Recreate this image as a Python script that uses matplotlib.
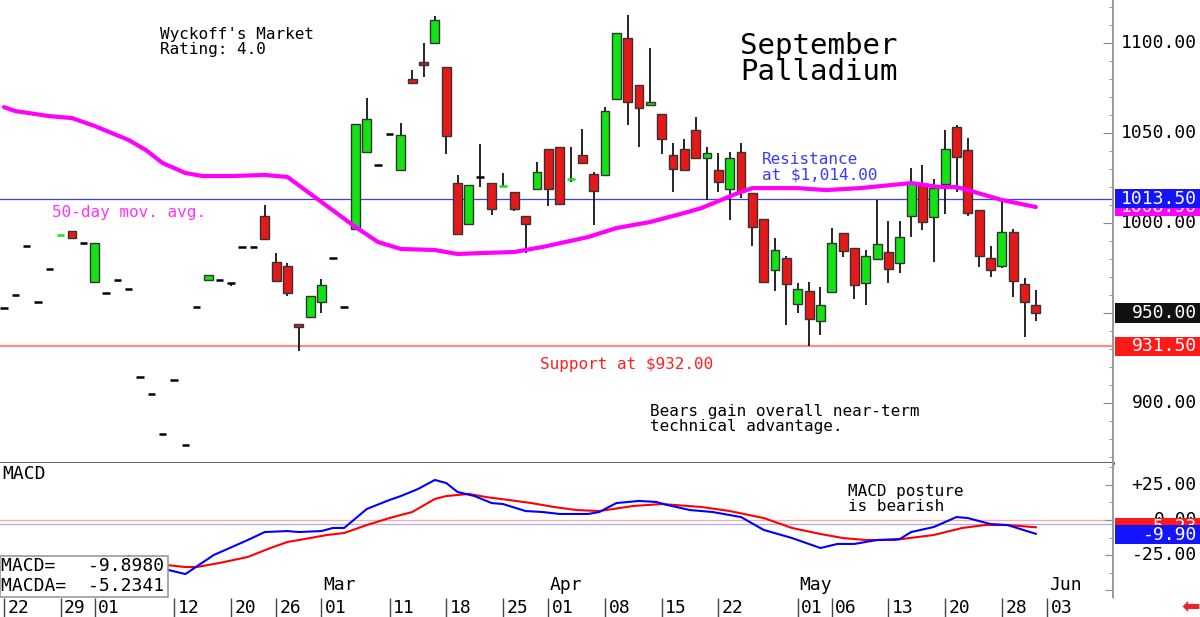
import matplotlib
matplotlib.use("Agg")
import matplotlib.pyplot as plt
import matplotlib.transforms as mtransforms
from matplotlib.patches import Rectangle
from matplotlib.ticker import MultipleLocator

# daily bars, index 0 = Jan 22
opens = [952.8, 960.0, 987.2, 956.1, 974.4, 993.1, 995.6, 988.9, 967.2, 961.1,
         968.3, 963.3, 914.4, 905.0, 882.8, 912.8, 876.7, 953.3, 968.3, 968.3,
         966.7, 986.7, 986.7, 1003.9, 978.3, 976.1, 943.9, 947.8, 956.1, 980.6,
         953.3, 996.7, 1039.4, 1032.2, 1049.4, 1029.4, 1080.0, 1089.4, 1100.0, 1086.7,
         1022.2, 999.4, 1025.6, 1022.2, 1020.4, 1017.2, 1003.9, 1018.9, 1041.1, 1042.2,
         1024.2, 1037.8, 1027.2, 1026.7, 1068.9, 1102.8, 1076.7, 1065.6, 1060.6, 1037.8,
         1041.1, 1051.7, 1036.1, 1029.4, 1018.9, 1039.4, 1016.7, 1002.2, 973.9, 980.6,
         955.0, 962.2, 945.6, 961.7, 994.4, 986.1, 966.7, 980.0, 983.9, 977.8,
         1003.9, 1021.7, 1003.3, 1021.7, 1053.3, 1040.6, 1007.2, 980.6, 976.1, 995.0,
         966.1, 954.4]
highs = [952.8, 960.0, 987.2, 956.1, 974.4, 993.3, 995.6, 988.9, 988.9, 961.1,
         968.3, 963.3, 914.4, 905.0, 882.8, 912.8, 876.7, 953.3, 971.1, 968.3,
         966.7, 986.7, 986.7, 1010.0, 983.3, 977.8, 943.9, 959.4, 968.9, 980.6,
         953.3, 1055.0, 1069.4, 1032.2, 1049.4, 1055.6, 1085.0, 1100.0, 1115.0, 1086.7,
         1026.7, 1021.1, 1043.9, 1022.2, 1027.8, 1017.2, 1003.9, 1033.9, 1041.1, 1042.2,
         1042.2, 1052.2, 1028.3, 1064.4, 1105.6, 1115.6, 1076.7, 1097.2, 1060.6, 1044.4,
         1046.7, 1058.9, 1042.2, 1038.9, 1039.4, 1044.4, 1016.7, 1002.2, 991.7, 981.7,
         966.7, 967.2, 964.4, 997.2, 994.4, 986.1, 985.0, 1012.8, 1001.1, 1001.1,
         1030.6, 1032.2, 1024.4, 1051.7, 1054.4, 1047.2, 1007.2, 987.2, 1012.8, 996.7,
         969.4, 962.8]
lows = [952.8, 960.0, 987.2, 956.1, 974.4, 993.1, 991.7, 988.9, 967.2, 961.1,
        968.3, 963.3, 914.4, 905.0, 882.8, 912.8, 876.7, 953.3, 968.3, 968.3,
        965.0, 986.7, 986.7, 991.1, 967.8, 959.4, 929.0, 947.8, 950.0, 980.6,
        953.3, 996.7, 1039.4, 1032.2, 1049.4, 1029.4, 1077.8, 1081.1, 1100.0, 1038.3,
        993.9, 999.4, 1020.0, 1004.4, 1020.4, 1006.7, 983.3, 1018.9, 1009.4, 1010.6,
        1022.8, 1033.3, 998.9, 1026.7, 1068.9, 1054.4, 1042.2, 1065.6, 1038.3, 1017.2,
        1029.4, 1036.1, 1012.8, 1017.2, 1001.7, 1013.9, 987.2, 967.2, 962.2, 943.3,
        950.0, 931.5, 937.8, 961.7, 981.1, 957.8, 954.4, 980.0, 966.7, 972.2,
        992.2, 996.1, 978.3, 1005.0, 1017.2, 1003.9, 975.6, 970.0, 975.0, 958.9,
        936.7, 945.6]
closes = [952.8, 960.0, 987.2, 956.1, 974.4, 993.3, 991.7, 988.9, 988.9, 961.1,
          968.3, 963.3, 914.4, 905.0, 882.8, 912.8, 876.7, 953.3, 971.1, 968.3,
          966.7, 986.7, 986.7, 991.1, 967.8, 961.1, 942.2, 959.4, 965.6, 980.6,
          953.3, 1055.0, 1057.8, 1032.2, 1049.4, 1048.9, 1077.8, 1087.8, 1112.8, 1048.3,
          993.9, 1021.1, 1025.6, 1007.8, 1020.6, 1007.8, 999.4, 1028.3, 1018.9, 1010.6,
          1024.4, 1033.3, 1017.8, 1062.2, 1105.6, 1067.2, 1063.9, 1066.7, 1046.7, 1030.0,
          1029.4, 1036.1, 1038.9, 1022.8, 1036.1, 1017.8, 997.8, 967.2, 985.0, 966.1,
          963.3, 946.7, 954.4, 988.9, 984.4, 965.6, 981.7, 988.3, 974.4, 992.2,
          1022.2, 1000.6, 1019.4, 1041.1, 1036.7, 1005.6, 981.7, 973.9, 995.0, 967.8,
          956.1, 950.0]

ma_x = [0, 1, 4, 6, 8, 9.5, 11, 12.5, 14, 16, 17.5, 20, 23, 25, 28, 31, 33, 35, 38, 40,
        42, 45, 47.5, 51.5, 54, 57, 60, 61.5, 64.5, 66, 70, 72.5, 75.5, 80, 82.5, 84, 85, 88, 91]
ma_vals = [1064.4, 1062.2, 1059.4, 1058.3, 1053.9, 1050.0, 1046.1, 1040.6, 1033.3, 1027.8,
           1026.1, 1026.1, 1026.7, 1025.6, 1011.7, 997.8, 989.4, 985.6, 985.0, 982.8,
           983.3, 983.9, 986.7, 992.2, 997.2, 1000.6, 1005.6, 1008.3, 1016.1, 1019.4,
           1019.4, 1018.3, 1019.4, 1022.2, 1020.0, 1020.0, 1018.3, 1012.8, 1008.9]

macd_x = [11, 14.5, 16, 18.5, 21.5, 23, 25, 26, 28, 29, 30, 32, 34, 35, 36.5, 38, 39, 40,
          41.5, 43, 44, 46, 47.5, 49, 51.5, 52.5, 54, 56, 57.5, 58.5, 60.5, 62.5, 65, 67,
          69.5, 72, 73.5, 75, 77, 79, 80, 82, 84, 85, 87, 88.5, 91]
macd_vals = [-25.7, -35.7, -38.6, -25.0, -14.3, -8.6, -7.9, -8.6, -7.9, -5.7, -5.7, 7.9,
             14.3, 17.1, 22.1, 28.6, 26.4, 20.0, 17.1, 12.1, 11.4, 6.4, 5.7, 4.3, 4.3, 5.7,
             12.1, 13.6, 12.9, 10.7, 7.1, 5.7, 2.1, -7.1, -12.9, -20.0, -17.1, -17.1, -14.3,
             -13.6, -8.6, -5.0, 2.1, 1.4, -2.9, -3.6, -9.9]
sig_x = [11, 13.5, 16, 17, 19, 21.5, 23.5, 25, 26.5, 28.5, 30, 32, 34, 36, 38, 39, 41,
         42.5, 44.5, 46.5, 48.5, 50.5, 52.5, 55.5, 58, 61.5, 64, 67, 69.5, 72, 74, 76,
         78.5, 82, 84.5, 86.5, 88.5, 91]
sig_vals = [-29.5, -31.4, -33.6, -33.6, -30.7, -26.4, -20.0, -15.7, -13.6, -10.7, -9.3,
            -3.6, 1.4, 5.7, 15.0, 17.1, 18.6, 16.4, 14.3, 12.1, 9.3, 7.1, 6.4, 10.0, 11.4,
            9.3, 6.4, 1.4, -5.7, -10.0, -12.9, -14.3, -14.3, -10.7, -5.7, -3.6, -3.6, -5.2]

date_pos = [0, 5, 8, 15, 20, 24, 28, 34, 39, 44, 48, 53, 58, 63, 70, 73, 78, 83, 88, 92]
date_labels = ["22", "29", "01", "12", "20", "26", "01", "11", "18", "25", "01", "08",
               "15", "22", "01", "06", "13", "20", "28", "03"]
month_pos = [28, 48, 70, 92]
month_labels = ["Mar", "Apr", "May", "Jun"]

resistance = 1013.5
support = 931.5
macd_last = -9.898
macda_last = -5.2341

MONO = "DejaVu Sans Mono"
GREEN = "#13e313"
RED = "#e81818"
W, H = 1200, 617


def fx(px):
    return px / W


def fy(py):
    return 1 - py / H


fig = plt.figure(figsize=(12, 6.17), dpi=100)
ax = fig.add_axes([0, fy(463), fx(1113), fy(0) - fy(463)])
mx = fig.add_axes([0, fy(598), fx(1113), fy(463) - fy(598)], sharex=ax)
dx = fig.add_axes([0, 0, fx(1113), fy(598)], sharex=ax)

ax.set_xlim(-0.35, 97.8)
ax.set_ylim(866.7, 1123.9)
mx.set_ylim(-55.7, 40.7)
dx.set_ylim(0, 1)

# candles
for i in range(len(opens)):
    o, h, l, c = opens[i], highs[i], lows[i], closes[i]
    if h > max(o, c) or l < min(o, c):
        ax.vlines(i, l, h, color="black", lw=1.2, zorder=2)
    if abs(c - o) < 0.8:
        col = GREEN if c > o else (RED if c < o else "black")
        ax.hlines(o, i - 0.33, i + 0.33, color=col, lw=1.8, zorder=3)
    else:
        col = GREEN if c > o else RED
        ax.bar(i, max(abs(c - o), 1.5), bottom=min(o, c), width=0.78, color=col,
               edgecolor="#333333", lw=1.0, zorder=3)

ax.plot(ma_x, ma_vals, color="#ff00ff", lw=3, zorder=4, solid_capstyle="round")
ax.axhline(resistance, color="#3c3cff", lw=0.9, zorder=1)
ax.axhline(support, color="#ff8c8c", lw=1.6, zorder=1)

for a in (ax, mx, dx):
    for s in a.spines.values():
        s.set_visible(False)
    a.tick_params(axis="x", which="both", bottom=False, labelbottom=False)
ax.spines["right"].set_visible(True)
ax.spines["right"].set_color("#999999")
ax.spines["right"].set_linewidth(1.4)
ax.spines["bottom"].set_visible(True)
ax.spines["bottom"].set_color("#555555")
ax.spines["bottom"].set_linewidth(2)
mx.spines["right"].set_visible(True)
mx.spines["right"].set_color("#999999")
mx.spines["right"].set_linewidth(1.4)

ax.yaxis.set_ticks_position("right")
ax.yaxis.set_major_locator(MultipleLocator(50))
ax.yaxis.set_minor_locator(MultipleLocator(10))
ax.tick_params(axis="y", which="major", direction="in", length=7, color="#888888", labelright=False)
ax.tick_params(axis="y", which="minor", direction="in", length=3, color="#888888")
mx.yaxis.set_ticks_position("right")
mx.yaxis.set_major_locator(MultipleLocator(25))
mx.yaxis.set_minor_locator(MultipleLocator(12.5))
mx.tick_params(axis="y", which="major", direction="in", length=6, color="#888888", labelright=False)
mx.tick_params(axis="y", which="minor", direction="in", length=3, color="#888888")
dx.set_yticks([])

xr = 1197 / 1113
xb = 1115 / 1113
xw = 1200 / 1113 - xb
tr_p = mtransforms.blended_transform_factory(ax.transAxes, ax.transData)
tr_m = mtransforms.blended_transform_factory(mx.transAxes, mx.transData)

for v in [1100, 1050, 1000, 900]:
    ax.text(xr, v, f"{v:.2f}", transform=tr_p, ha="right", va="center",
            fontsize=13, family=MONO, clip_on=False)


def price_box(a, tr, val, text, color, half, z):
    a.add_patch(Rectangle((xb, val - half), xw, 2 * half, transform=tr, facecolor=color,
                          edgecolor="none", clip_on=False, zorder=z))
    a.text(xr, val, text, transform=tr, ha="right", va="center", fontsize=13,
           family=MONO, color="white", clip_on=False, zorder=z + 0.5)


price_box(ax, tr_p, ma_vals[-1], f"{ma_vals[-1]:.2f}", "#ff00ff", 5.0, 5)
price_box(ax, tr_p, resistance, f"{resistance:.2f}", "#1414ff", 5.4, 6)
price_box(ax, tr_p, closes[-1], f"{closes[-1]:.2f}", "#111111", 5.4, 6)
price_box(ax, tr_p, support, f"{support:.2f}", "#ff1a1a", 5.4, 6)

# MACD panel
mx.axhline(0, color="#ffaaaa", lw=0.9, zorder=1)
mx.axhline(-3, color="#aaaaff", lw=0.9, zorder=1)
mx.plot(sig_x, sig_vals, color="#ff0000", lw=1.5, zorder=3)
mx.plot(macd_x, macd_vals, color="#0000ff", lw=1.5, zorder=3)
for v, t in [(25, "+25.00"), (0, "0.00"), (-25, "-25.00")]:
    mx.text(xr, v, t, transform=tr_m, ha="right", va="center", fontsize=13,
            family=MONO, clip_on=False)
price_box(mx, tr_m, macda_last, f"{macda_last:.2f}", "#ff1a1a", 6.4, 6)
price_box(mx, tr_m, macd_last - 0.5, f"{macd_last:.2f}", "#1414ff", 6.8, 7)

for p, m in zip(month_pos, month_labels):
    mx.text(p + 0.15, -46.4, m, ha="left", va="center", fontsize=13, family=MONO)

mx.add_patch(Rectangle((0, fy(597)), fx(168), fy(556) - fy(597), transform=fig.transFigure,
                       facecolor="white", edgecolor="#999999", lw=1.2, clip_on=False, zorder=10))
fig.text(fx(1), fy(566), f"MACD=   {macd_last:.4f}", ha="left", va="center", fontsize=13,
         family=MONO, zorder=11)
fig.text(fx(1), fy(586), f"MACDA=  {macda_last:.4f}", ha="left", va="center", fontsize=13,
         family=MONO, zorder=11)
fig.text(fx(2), fy(474), "MACD", ha="left", va="center", fontsize=13, family=MONO)

# date row
dx.vlines(date_pos, 0, 1, color="#444444", lw=1)
for p, t in zip(date_pos, date_labels):
    dx.text(p + 0.3, 0.45, t, ha="left", va="center", fontsize=13, family=MONO)

# notes
fig.text(fx(160), fy(42), "Wyckoff's Market\nRating: 4.0", ha="left", va="center",
         fontsize=11.5, family=MONO, linespacing=1.0)
fig.text(fx(740), fy(59), "September\nPalladium", ha="left", va="center",
         fontsize=21, family=MONO, linespacing=0.95)
fig.text(fx(52), fy(213), "50-day mov. avg.", ha="left", va="center", fontsize=11.5,
         family=MONO, color="#ff33ff")
fig.text(fx(762), fy(167), "Resistance\nat $1,014.00", ha="left", va="center",
         fontsize=11.5, family=MONO, color="#3a3aff", linespacing=1.0)
fig.text(fx(540), fy(365), "Support at $932.00", ha="left", va="center", fontsize=11.5,
         family=MONO, color="#ff2020")
fig.text(fx(650), fy(419), "Bears gain overall near-term\ntechnical advantage.",
         ha="left", va="center", fontsize=11.5, family=MONO, linespacing=1.0)
fig.text(fx(848), fy(499), "MACD posture\nis bearish", ha="left", va="center",
         fontsize=11.5, family=MONO, linespacing=1.0)
fig.text(fx(1191), fy(607), "\u2b05", ha="center", va="center", fontsize=16,
         color="#ee2222", family="DejaVu Sans")

fig.savefig("out.png", dpi=100, facecolor="white")
